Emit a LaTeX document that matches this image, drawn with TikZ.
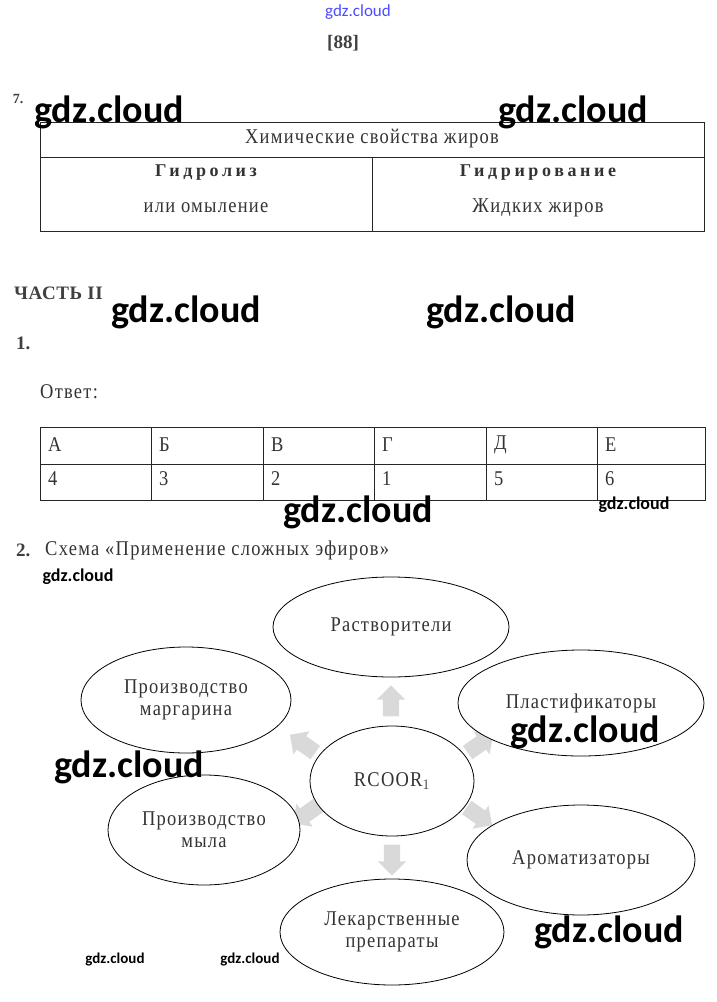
\documentclass[tikz,border=0pt]{standalone}
\usepackage{fontspec}
\setmainfont{Liberation Serif}
\newfontfamily\wmfont{Carlito}
\newfontfamily\spfont[LetterSpace=6,FakeStretch=0.88]{Liberation Serif}
\newfontfamily\hdfont[LetterSpace=20]{Liberation Serif}
\usetikzlibrary{shapes.geometric,shapes.arrows}
\begin{document}
\begin{tikzpicture}[x=1pt,y=-1pt,
  txt/.style={font=\spfont\fontsize{21}{23}\selectfont, text=black!80, inner sep=0},
  hdr/.style={font=\hdfont\bfseries\fontsize{18}{20}\selectfont, text=black!80, inner sep=0},
  num/.style={font=\bfseries\fontsize{19}{22}\selectfont, text=black!75, inner sep=0, anchor=west},
  wmbig/.style={font=\wmfont\bfseries\fontsize{38}{40}\selectfont, text=black, inner sep=0},
  wmsmall/.style={font=\wmfont\bfseries\fontsize{18}{20}\selectfont, text=black, inner sep=0},
  wmtiny/.style={font=\wmfont\bfseries\fontsize{15}{17}\selectfont, text=black, inner sep=0},
  ell/.style={ellipse, draw=black, line width=0.8pt, fill=white, inner sep=0, align=center,
    font=\spfont\fontsize{21}{22}\selectfont, text=black!80},
  garrow/.style={single arrow, fill=black!15, draw=none, minimum height=31pt,
    inner xsep=0pt, inner ysep=8pt, single arrow head extend=6pt},
  tline/.style={line width=0.8pt, draw=black!85}]
\useasboundingbox (0,0) rectangle (716,1002);

% header
\node[font=\wmfont\fontsize{17}{19}\selectfont, text=blue!70, inner sep=0] (wtop) at (358,12) {gdz.cloud};
\node[font=\bfseries\fontsize{19}{22}\selectfont, text=black!75, inner sep=0] (page) at (343,43) {[88]};
\node[font=\bfseries\fontsize{14}{15}\selectfont, text=black!75, inner sep=0] (n7) at (18,99) {7.};

% table 1
\draw[tline] (40,122) rectangle (704,231);
\draw[tline] (40,157) -- (704,157);
\draw[tline] (372,157) -- (372,231);
\node[txt] (t1title) at (372,139) {Химические свойства жиров};
\node[hdr] (t1a) at (206,173) {Гидролиз};
\node[hdr] (t1b) at (538,173) {Гидрирование};
\node[txt] (t1c) at (206,208) {или омыление};
\node[txt] (t1d) at (538,208) {Жидких жиров};

\node[wmbig] (w1) at (109,112) {gdz.cloud};
\node[wmbig] (w2) at (573,112) {gdz.cloud};

% part II
\node[font=\bfseries\addfontfeature{LetterSpace=3}\fontsize{19}{22}\selectfont, text=black!75, inner sep=0, anchor=west] (part) at (14,293) {ЧАСТЬ II};
\node[wmbig] (w3) at (186,312) {gdz.cloud};
\node[wmbig] (w4) at (501,312) {gdz.cloud};
\node[num] (n1) at (16,343) {1.};
\node[txt, anchor=west] (otvet) at (40,392) {Ответ:};

% table 2
\draw[tline] (40,427) rectangle (705,500);
\draw[tline] (40,464) -- (705,464);
\foreach \x in {151,263,374,486,597} \draw[tline] (\x,427) -- (\x,500);
\node[txt, anchor=west] (cA) at (48,445) {А};
\node[txt, anchor=west] (cB) at (159,445) {Б};
\node[txt, anchor=west] (cV) at (271,445) {В};
\node[txt, anchor=west] (cG) at (382,445) {Г};
\node[txt, anchor=west] (cD) at (494,445) {Д};
\node[txt, anchor=west] (cE) at (605,445) {Е};
\node[txt, anchor=west] (vA) at (48,479) {4};
\node[txt, anchor=west] (vB) at (159,479) {3};
\node[txt, anchor=west] (vV) at (271,479) {2};
\node[txt, anchor=west] (vG) at (382,479) {1};
\node[txt, anchor=west] (vD) at (494,479) {5};
\node[txt, anchor=west] (vE) at (605,479) {6};
\node[wmsmall] (w5) at (634,505) {gdz.cloud};
\node[wmbig] (w6) at (358,512) {gdz.cloud};

% scheme
\node[num] (n2) at (16,550) {2.};
\node[txt, anchor=west] (scheme) at (45,550) {Схема «Применение сложных эфиров»};
\node[wmsmall] (w7) at (78,577) {gdz.cloud};

\node[garrow, rotate=90]  (aU)  at (391,705) {};
\node[garrow, rotate=-90] (aD)  at (392,856) {};
\node[garrow, rotate=145] (aUL) at (306,746) {};
\node[garrow, rotate=35]  (aUR) at (477,746) {};
\node[garrow, rotate=215] (aDL) at (309,812) {};
\node[garrow, rotate=-35] (aDR) at (476,814) {};

\node[ell, minimum width=236pt, minimum height=100pt] (e1) at (391,627) {Растворители};
\node[ell, minimum width=210pt, minimum height=106pt] (e2) at (186,700) {Производство\\маргарина};
\node[ell, minimum width=246pt, minimum height=106pt] (e3) at (581,703) {Пластификаторы};
\node[ell, minimum width=164pt, minimum height=110pt] (e0) at (392,781) {RCOOR$_1$};
\node[ell, minimum width=192pt, minimum height=110pt] (e4) at (204,830) {Производство\\мыла};
\node[ell, minimum width=228pt, minimum height=110pt] (e5) at (581,860) {Ароматизаторы};
\node[ell, minimum width=224pt, minimum height=106pt] (e6) at (392,932) {Лекарственные\\препараты};

\node[wmbig] (w8) at (585,732) {gdz.cloud};
\node[wmbig] (w9) at (129,767) {gdz.cloud};
\node[wmbig] (w10) at (609,932) {gdz.cloud};
\node[wmtiny] (w11) at (115,959) {gdz.cloud};
\node[wmtiny] (w12) at (250,959) {gdz.cloud};
\end{tikzpicture}
\end{document}
